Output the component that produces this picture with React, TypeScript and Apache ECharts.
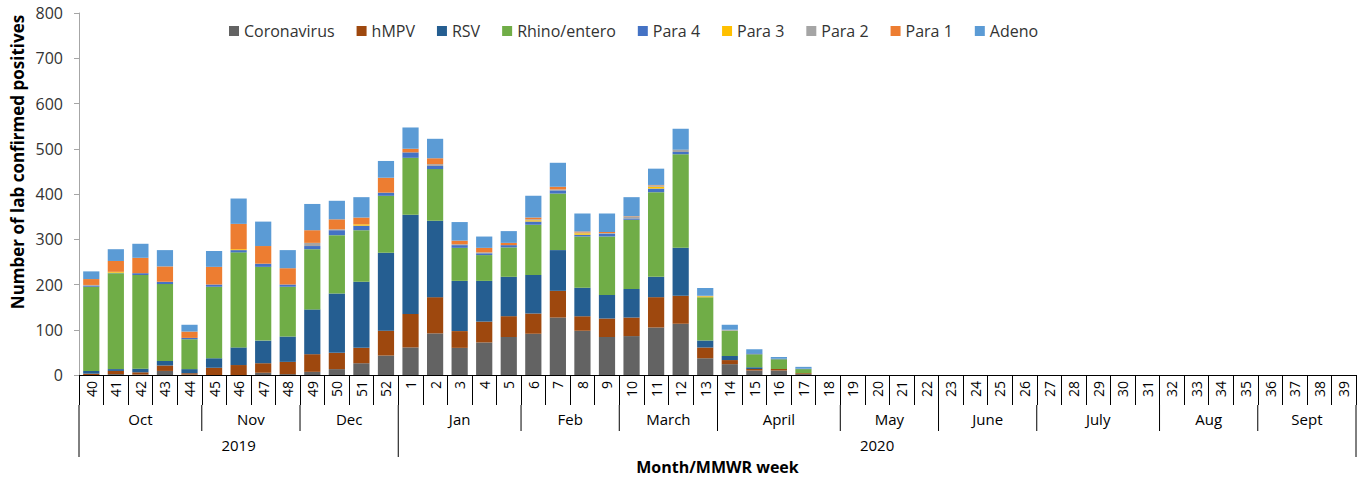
import React, { useEffect, useRef } from "react";
import * as echarts from "echarts";

const weeks = [
  "40","41","42","43","44","45","46","47","48","49","50","51","52",
  "1","2","3","4","5","6","7","8","9","10","11","12","13","14","15","16","17","18","19","20",
  "21","22","23","24","25","26","27","28","29","30","31","32","33","34","35","36","37","38","39",
];

const monthLabels = ["Oct","Nov","Dec","Jan","Feb","March","April","May","June","July","Aug","Sept"];
const monthWeekCounts = [5,4,4,5,4,4,5,4,4,5,4,4];
const yearLabels = ["2019","2020"];
const yearWeekCounts = [13,39];

const yTicks = [0,100,200,300,400,500,600,700,800];

const pad = (a: number[]) => a.concat(new Array(weeks.length - a.length).fill(0));

// weeks 40..52, then 1..17 (the rest are zero)
const coronavirus = pad([0,2,1,9,1,0,0,5,2,7,13,26,43, 61,92,60,72,84,91,127,98,84,86,105,113,37,24,10,10,2]);
const hmpv = pad([3,7,5,12,3,16,22,21,27,39,36,34,55, 74,80,37,46,46,45,59,32,41,41,67,62,24,9,3,3,2]);
const rsv = pad([6,4,8,10,9,21,39,50,56,99,131,146,172, 219,169,111,90,87,85,90,63,52,63,45,106,15,9,4,0,0]);
const rhino = pad([186,212,207,170,66,158,210,163,110,133,129,114,126, 126,114,73,57,65,111,125,113,129,153,187,207,96,56,29,22,9]);
const para4 = pad([2,1,4,5,3,5,5,7,5,7,11,10,7, 12,7,6,4,5,7,7,4,6,3,8,5,0,0,2,1,1]);
const para3 = pad([0,2,0,0,0,0,2,0,0,0,0,3,0, 0,0,0,0,0,3,0,3,0,0,4,0,2,0,0,0,0]);
const para2 = pad([2,0,0,0,0,0,0,0,0,7,2,0,0, 0,4,2,2,0,2,2,2,2,4,3,4,1,2,0,0,0]);
const para1 = pad([13,24,34,34,14,39,56,39,36,28,22,15,33, 8,13,8,10,5,4,6,2,2,1,1,1,0,0,0,0,0]);
const adeno = pad([17,26,31,36,15,35,56,54,40,58,41,45,37, 47,43,41,25,26,48,53,40,41,42,36,46,17,11,9,4,4]);

const seriesNames = ["Coronavirus","hMPV","RSV","Rhino/entero","Para 4","Para 3","Para 2","Para 1","Adeno"];
const seriesData = [coronavirus, hmpv, rsv, rhino, para4, para3, para2, para1, adeno];
const seriesColors = ["#636363","#9E480E","#255E91","#70AD47","#4472C4","#FFC000","#A5A5A5","#ED7D31","#5B9BD5"];

const FONT = "Open Sans";

export default function App() {
  const ref = useRef<HTMLDivElement>(null);
  useEffect(() => {
    if (!ref.current) return;
    const chart = echarts.init(ref.current, null, { renderer: "svg" });
    chart.setOption({
      animation: false,
      backgroundColor: "#ffffff",
      grid: { left: 79, right: 3, top: 13, bottom: 104, containLabel: false },
      legend: {
        data: seriesNames,
        left: 224,
        top: 18,
        itemWidth: 10,
        itemHeight: 10,
        itemGap: 22,
        icon: "rect",
        textStyle: { fontFamily: FONT, fontSize: 16, color: "#333" },
      },
      xAxis: {
        type: "category",
        data: weeks,
        axisLine: { lineStyle: { color: "#000", width: 1 } },
        axisTick: { show: true, interval: 0, length: 30, lineStyle: { color: "#000" } },
        axisLabel: {
          interval: 0,
          rotate: 90,
          margin: 6,
          fontFamily: FONT,
          fontSize: 14,
          color: "#000",
        },
      },
      yAxis: {
        type: "value",
        min: 0,
        max: 800,
        interval: 100,
        splitLine: { show: false },
        axisLine: { show: true, lineStyle: { color: "#a6a6a6" } },
        axisTick: { show: true, length: 5, lineStyle: { color: "#a6a6a6" } },
        axisLabel: {
          fontFamily: FONT,
          fontSize: 16,
          color: "#333",
          margin: 16,
          formatter: (v: number) => (yTicks.includes(v) ? String(v) : ""),
        },
      },
      series: seriesNames.map((name, i) => ({
        name,
        type: "bar",
        stack: "total",
        data: seriesData[i],
        barWidth: "66%",
        itemStyle: { color: seriesColors[i] },
      })),
    });

    const xc = (i: number) => chart.convertToPixel({ xAxisIndex: 0 }, i) as number;
    const band = xc(1) - xc(0);
    const edge = (i: number) => xc(i) - band / 2;
    const y0 = chart.convertToPixel({ yAxisIndex: 0 }, 0) as number;
    const yWeek = y0 + 30;
    const yMonth = y0 + 56;
    const yYear = y0 + 82;

    const g: any[] = [];
    const line = (x: number, ya: number, yb: number) =>
      g.push({ type: "line", shape: { x1: x, y1: ya, x2: x, y2: yb }, style: { stroke: "#000", lineWidth: 1 }, silent: true });
    const text = (s: string, x: number, y: number, size: number, bold = false) =>
      g.push({
        type: "text",
        x,
        y,
        style: { text: s, fontFamily: FONT, fontSize: size, fontWeight: bold ? "bold" : "normal", fill: "#000", textAlign: "center", textVerticalAlign: "middle" },
        silent: true,
      });

    let idx = 0;
    monthLabels.forEach((m, k) => {
      const a = idx;
      const b = idx + monthWeekCounts[k];
      line(edge(a), yWeek, yMonth);
      text(m, (edge(a) + edge(b)) / 2, (yWeek + yMonth) / 2 + 1, 15);
      idx = b;
    });
    line(edge(idx), yWeek, yMonth);

    idx = 0;
    yearLabels.forEach((yl, k) => {
      const a = idx;
      const b = idx + yearWeekCounts[k];
      line(edge(a), yMonth, yYear);
      text(yl, (edge(a) + edge(b)) / 2, (yMonth + yYear) / 2 + 1, 15);
      idx = b;
    });
    line(edge(idx), yMonth, yYear);

    text("Month/MMWR week", (edge(0) + edge(weeks.length)) / 2, 467, 16, true);
    g.push({
      type: "text",
      x: 17,
      y: 162,
      rotation: Math.PI / 2,
      style: { text: "Number of lab confirmed positives", fontFamily: FONT, fontSize: 17, fontWeight: "bold", fill: "#000", textAlign: "center", textVerticalAlign: "middle" },
      silent: true,
    });

    chart.setOption({ graphic: g });
    return () => chart.dispose();
  }, []);
  return <div ref={ref} style={{ position: "absolute", left: 0, top: 0, width: 1359, height: 479 }} />;
}
